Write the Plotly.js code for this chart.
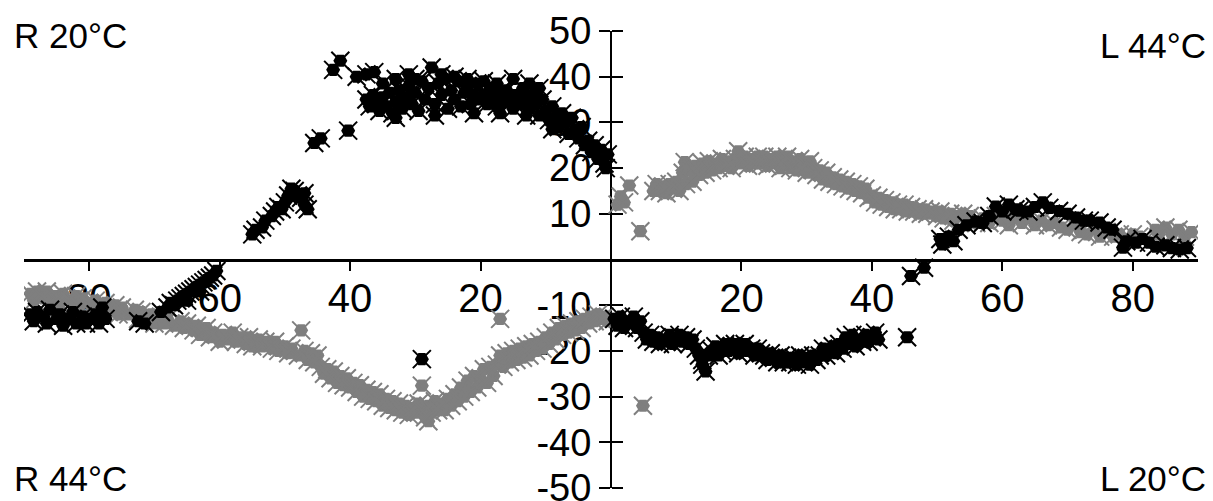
<!DOCTYPE html>
<html>
<head>
<meta charset="utf-8">
<script src="https://cdn.plot.ly/plotly-3.0.1.min.js"></script>
<style>html,body{margin:0;padding:0;background:#fff;}#chart{width:1213px;height:501px;}</style>
</head>
<body>
<div id="chart"></div>
<script>
// Black series, left half (x < 0)
const blackLeft = [
  [-89,-12],[-88.5,-13.5],[-88,-11.5],[-87,-12.5],[-86.5,-14],[-86,-11],[-85,-13],[-84.5,-12],[-84,-14.5],[-83,-13],
  [-82.5,-11.5],[-82,-14],[-81,-12.5],[-80.5,-14],[-80,-13],[-79,-12],[-78.5,-14],[-78,-10.5],[-77.5,-13],
  [-72.5,-13.5],[-71.5,-14],
  [-69,-11.5],[-68,-10.5],[-67.5,-9.5],[-67,-10],[-66.5,-9],[-66,-8.5],[-65.5,-8],[-65,-9],[-65,-7.5],[-64.5,-7],
  [-64,-6.5],[-63.5,-6],[-63,-7],[-63,-5.5],[-62.5,-5],[-62,-4.5],[-61.5,-4],[-61,-3.5],[-60.5,-2.5],
  [-55,5.5],[-54.5,6.5],[-53.5,7],[-53,8.5],[-52,9.5],[-51.5,10.5],[-51,11.5],[-50.5,11],[-50,12.5],[-49.5,14],
  [-49,15.5],[-48.5,15],[-48,14],[-47.5,13.5],[-47,12],[-47,14.5],[-46.5,11],
  [-45.5,25.5],[-44.5,26.5],[-40.3,28.2],
  [-42.6,41.5],[-41.5,43.5],[-39,40],[-37.5,40.5],[-36.3,41],
  [-37.5,35],[-37,33.5],[-36.5,36],[-36,34],[-35.5,32.5],[-35,35.5],[-34.5,33.5],[-34,36.5],[-33.5,32],[-33,34.5],
  [-32.5,37],[-32,33],[-31.5,35.5],[-31,38],[-30.5,34],[-30,36.5],[-29.5,32.5],[-29,39],[-28.5,35],[-28,37.5],
  [-27.5,42],[-27,34],[-26.5,38.5],[-26,36],[-25.5,39.5],[-25,33],[-24.5,37],[-24,35],[-23.5,39],[-23,33.5],
  [-22.5,36.5],[-22,38],[-21.5,34],[-21,36],[-20.5,38.5],[-20,35],
  [-19.5,36],[-19,34],[-18.5,37.5],[-18,35],[-17.5,33.5],[-17,36.5],[-16.5,34.5],[-16,37],[-15.5,35],[-15,33],
  [-14.5,36],[-14,34],[-13.5,37.5],[-13,35.5],[-12.5,33],[-12,36],[-11.5,34],[-11,31.5],[-10.5,35],[-10,32.5],
  [-9.5,30.5],[-9,33.5],[-8.5,31],[-8,29],[-7.5,32],[-7,30],[-6.5,27.5],[-6,31],[-5.5,28.5],[-5,26.5],
  [-4.5,29],[-4,25],[-3.5,26],[-3,23.5],[-2.5,25],[-2,22],[-1.5,24],[-1,21],[-0.5,23],[-0.8,20],
  [-35,38.5],[-33,39.5],[-31,40.5],[-30,39.5],[-26,40.5],[-24,40],[-22,39.5],[-19.5,39],[-17.5,38.5],[-15,39.5],
  [-12.5,38.5],[-11,37.5],[-33,31],[-27,31.5],[-21,32],[-17,32],[-13,31.5],[-9,28.5],
  [-29,-21.8]
];
// Black series, right half (x > 0)
const blackRight = [
  [0.5,-13],[1,-14.5],[1.5,-12.5],[2,-15],[2.5,-13.5],[3,-14],[3.5,-12.5],[4,-15],[4.5,-13.5],[5,-16],
  [5.5,-17.5],[6,-16.5],[6.5,-18],[7,-17],[7.5,-18.5],[8,-17.5],[8.5,-18],[9,-16.5],[9.5,-18.5],[10,-17.5],
  [10.5,-16.5],[11,-18],[11.5,-17],[12,-18.5],[12.5,-17.5],[13,-19.5],[13.5,-21],[14,-22],[14.5,-24.5],[14,-23],
  [15,-21],[15.5,-20],[16,-19],[16.5,-21],[17,-20],[17.5,-18.5],[18,-20],[18.5,-19],[19,-18.5],[19.5,-20.5],
  [20,-19],[20.5,-18.5],[21,-20],[21.5,-19.5],[22,-21],[22.5,-19.5],[23,-20.5],[23.5,-21],[24,-22],[24.5,-20.5],
  [25,-21.5],[25.5,-22.5],[26,-21],[26.5,-22.5],[27,-21.5],[27.5,-22.5],[28,-21.5],[28.5,-23],[29,-21],[29.5,-22.5],
  [30,-21.5],[30.5,-23],[31,-21],[31.5,-22],[32,-21],[32.5,-19.5],[33,-21],[33.5,-20],[34,-19],[34.5,-20.5],
  [35,-18.5],[35.5,-19.5],[36,-17],[36.5,-18.5],[37,-16.5],[37.5,-19],[38,-17.5],[38.5,-18],[39,-16.5],[39.5,-18],
  [40,-17],[40.5,-16],[41,-17.5],[45.4,-17],
  [46,-3.6],[48,-1.8],
  [50.8,3.3],[50.5,4.5],[51.8,5],[52.5,4],[53.3,6.5],[54.5,7.5],[55.9,8.3],[57,8],[58,9.5],[59,11.6],
  [60,10.5],[61,12],[62,11],[62.6,10.7],[64,10.5],[65,11.5],[66.2,12.5],[67.2,11.3],[68.7,10.6],[70,10],
  [71.3,9.2],[72.5,8.5],[73.4,8.5],[74.9,8.1],[76,7],[76.9,6.5],[78.5,2.6],[79,4],[80.5,3.7],[81.5,4.5],
  [82.5,3.7],[83.5,2.8],[85,3.1],[86,2.5],[87.2,2.2],[88.3,2.5]
];
// Gray series, left half
const grayLeft = [
  [-89,-7.5],[-88.5,-9],[-88,-7],[-87,-8.5],[-86.5,-7],[-86,-9.5],[-85,-8],[-84.5,-9.5],[-84,-7.5],[-83,-9],
  [-82,-8],[-81.5,-10],[-81,-8.5],[-80,-9.5],[-79.5,-11],[-79,-9],[-78,-10.5],[-77.5,-9.5],[-77,-11.5],[-76,-10],
  [-75.5,-12],[-75,-10.5],[-74,-12],[-73,-11],[-72.5,-13],[-72,-11.5],[-71,-13],[-70.5,-12],[-70,-14],[-69,-12.5],
  [-68.5,-14],[-68,-13],[-67,-14.5],[-66,-13.5],[-65.5,-15],[-65,-14],[-64,-15.5],[-63.5,-14.5],[-63,-16.5],[-62,-15],
  [-61.5,-17],[-61,-16],[-60,-18],[-59.5,-16.5],[-59,-17.5],[-58,-16],[-57.5,-18],[-57,-17],[-56,-18.5],[-55.5,-17],
  [-55,-19],[-54,-17.5],[-53.5,-19],[-53,-18],[-52,-19.5],[-51.5,-18],[-51,-20],[-50,-19],[-49.5,-20.5],[-49,-19.5],
  [-48,-21],[-47.5,-15.5],[-47,-20],[-46.5,-22],[-46,-20.5],[-45.5,-22.5],[-45,-21],[-44.5,-23.5],[-44,-25],[-43.5,-24],
  [-43,-26],[-42.5,-24.5],[-42,-27],[-41.5,-25.5],[-41,-27.5],[-40.5,-26],[-40,-28],[-39.5,-27],[-39,-29],[-38.5,-27.5],
  [-38,-30],[-37.5,-28.5],[-37,-30.5],[-36.5,-29],[-36,-31],[-35.5,-29.5],[-35,-32],[-34.5,-30.5],[-34,-32.5],[-33.5,-31],
  [-33,-33],[-32.5,-31.5],[-32,-33.5],[-31.5,-32],[-31,-34],[-30.5,-32.5],[-30,-33.5],[-29.5,-31.5],[-29,-27.6],[-29,-33],
  [-28.5,-34.5],[-28,-35.4],[-28,-32],[-27.5,-33.5],[-27,-31],[-26.5,-33],[-26,-31.5],[-25.5,-33],[-25,-30.5],[-24.5,-32],
  [-24,-29.5],[-23.5,-31],[-23,-28],[-22.5,-30],[-22,-26.5],[-21.5,-29],[-21,-25.5],[-20.5,-28],[-20,-26],[-19.5,-24],
  [-19,-27],[-18.5,-23.5],[-18,-25.5],[-17.5,-23],[-17,-21],[-17,-13],[-16.5,-23.5],[-16,-20.5],[-15.5,-22.5],[-15,-20],
  [-14.5,-22],[-14,-19.5],[-13.5,-21.5],[-13,-19],[-12.5,-21],[-12,-18.5],[-11.5,-20],[-11,-18],[-10.5,-19.5],[-10,-17],
  [-9.5,-18.5],[-9,-16],[-8.5,-17.5],[-8,-15],[-7.5,-16.5],[-7,-14.5],[-6.5,-16],[-6,-14],[-5.5,-15.5],[-5,-13.5],
  [-4.5,-15],[-4,-13],[-3.5,-14],[-3,-12.5],[-2.5,-13.5],[-2,-12],[-1.5,-13],[-1,-12.5],[-0.5,-13.5]
];
// Gray series, right half
const grayRight = [
  [0.5,-13],[1,12],[1.5,13.8],[2,12.5],[2.8,16.2],[4.5,6.2],[4.9,-32],
  [6.5,15],[7,16.5],[7.5,15],[8,16],[8.5,14.5],[9,16.5],[9.5,15.5],[10,17],[10.5,15],[11,19],
  [11.3,21.3],[11.5,16.5],[12,19.5],[12.5,17],[13,20.5],[13.5,18.5],[14,21],[14.5,19],[15,21.5],[15.5,19.5],
  [16,21],[16.5,20],[17,22],[17.5,20.5],[18,21.5],[18.5,20],[19,22],[19.5,23.7],[20,21],[20.5,22.5],
  [21,20.5],[21.5,22],[22,21],[22.5,22.5],[23,21],[23.5,22.5],[24,20.5],[24.5,22],[25,21],[25.5,22.5],
  [26,20],[26.5,21.5],[27,22.5],[27.5,20],[28,21.5],[28.5,19.5],[29,22],[29.5,20.5],[30,19],[30.5,21.5],
  [31,20],[31.5,18.5],[32,19.5],[32.5,17.5],[33,19],[33.5,17],[34,18],[34.5,16.5],[35,17.5],[35.5,16],
  [36,17],[36.5,15.5],[37,16.5],[37.5,15],[38,16],[38.5,14.5],[39,15.5],[39.5,13.5],[40,14],[40.5,12.5],
  [41,13.5],[41.5,12],[42,13],[42.5,11.5],[43,12.5],[43.5,11],[44,12],[44.5,11],[45,12],[45.5,10.5],
  [46,11.5],[46.5,10.5],[47,11],[47.5,10],[48,11],[48.5,10],[49,10.5],[50,9.5],[50.5,10.5],[51,9],
  [52,10],[52.5,8.5],[53,9.5],[54,10],[54.5,8.5],[55,9.5],[56,8],[57,9],[58,8],[59,9.5],
  [60,8.5],[61,7.5],[62,9],[63,8],[64,9],[65,7.5],[66,8.5],[67,7.5],[68,8],[69,7],
  [70,6.5],[71,7.5],[72,6],[73,5.5],[74,6.5],[75,5],[76,6],[77,5],[78,5.5],[79,4.5],
  [80,5.5],[81,5],[83.5,6.5],[84,5.5],[85,7],[86,5.5],[87,6.5],[88,5],[89,6]
];
const xTickVals = [-80,-60,-40,-20,20,40,60,80];
const xTickText = ['80','60','40','20','20','40','60','80'];
const yTickVals = [-50,-40,-30,-20,-10,10,20,30,40,50];
const yTickText = ['-50','-40','-30','-20','-10','10','20','30','40','50'];
const cornerLabels = ['R 20°C','L 44°C','R 44°C','L 20°C'];

const blackPts = blackLeft.concat(blackRight);
const grayPts = grayLeft.concat(grayRight);
const BLACK = '#000000', GRAY = '#7f7f7f';

function layers(pts, color, yax){
  const xs = pts.map(p=>p[0]), ys = pts.map(p=>p[1]);
  return [
    {type:'scatter', mode:'markers', x:xs, y:ys, yaxis:yax, hoverinfo:'skip',
     marker:{symbol:'hexagon2', size:14, color:color, line:{width:0}}},
    {type:'scatter', mode:'markers', x:xs, y:ys, yaxis:yax, hoverinfo:'skip',
     marker:{symbol:'x-thin-open', size:18, color:color, line:{color:color, width:2}}}
  ];
}
const data = layers(grayPts, GRAY, 'y').concat(layers(blackPts, BLACK, 'y2'));

const W = 1213, H = 501, L = 24, R = 15, T = 31, B = 13;
const pw = W - L - R, ph = H - T - B;
function px(v){ return (v - L) / pw; }
function py(v){ return (H - B - v) / ph; }

const layout = {
  width: W, height: H,
  margin: {l:L, r:R, t:T, b:B, pad:0},
  paper_bgcolor: '#ffffff', plot_bgcolor: '#ffffff',
  showlegend: false,
  font: {family: 'Liberation Sans, Arial, sans-serif', color: '#000'},
  xaxis: {
    range: [-90, 90], anchor: 'free', position: 0.5,
    showline: true, linewidth: 3, linecolor: '#000',
    ticks: 'outside', ticklen: 9, tickwidth: 2, tickcolor: '#000',
    tickvals: xTickVals, ticktext: xTickText, ticklabelstandoff: -7,
    tickfont: {size: 40, color: '#000'},
    showgrid: false, zeroline: false, layer: 'below traces', fixedrange: true
  },
  yaxis: {
    range: [-50, 50], anchor: 'free', position: 0.5,
    showline: true, linewidth: 2, linecolor: '#000',
    ticks: 'outside', ticklen: 11, tickwidth: 2, tickcolor: '#000',
    tickvals: yTickVals, ticktext: yTickText, ticklabeloverflow: 'allow',
    tickfont: {size: 38, color: '#000'},
    showgrid: false, zeroline: false, layer: 'below traces', fixedrange: true
  },
  yaxis2: {
    range: [-50, 50], overlaying: 'y', anchor: 'free', position: 0.5, side: 'right',
    showline: false, ticks: 'outside', ticklen: 11, tickwidth: 2, tickcolor: '#000',
    tickvals: yTickVals, showticklabels: false,
    showgrid: false, zeroline: false, layer: 'below traces', fixedrange: true
  },
  annotations: [
    {text: cornerLabels[0], xref:'paper', yref:'paper', x: px(12), y: py(35.5), xanchor:'left', yanchor:'middle', showarrow:false, font:{size:35}},
    {text: cornerLabels[1], xref:'paper', yref:'paper', x: px(1208), y: py(45.5), xanchor:'right', yanchor:'middle', showarrow:false, font:{size:35}},
    {text: cornerLabels[2], xref:'paper', yref:'paper', x: px(12), y: py(478), xanchor:'left', yanchor:'middle', showarrow:false, font:{size:35}},
    {text: cornerLabels[3], xref:'paper', yref:'paper', x: px(1208), y: py(478), xanchor:'right', yanchor:'middle', showarrow:false, font:{size:35}}
  ]
};
Plotly.newPlot('chart', data, layout, {displayModeBar:false, staticPlot:true});
</script>
</body>
</html>
